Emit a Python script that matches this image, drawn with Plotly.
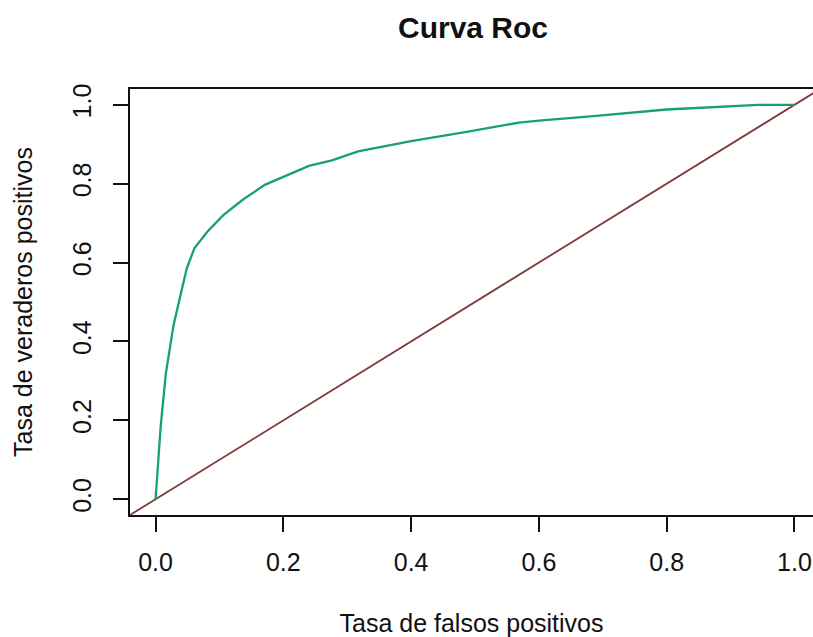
import plotly.graph_objects as go

# ROC curve
fpr = [0.0, 0.004, 0.008, 0.016, 0.020, 0.028, 0.037, 0.049, 0.061, 0.081, 0.106,
       0.138, 0.171, 0.200, 0.240, 0.276, 0.317, 0.400, 0.487, 0.569, 0.600,
       0.690, 0.800, 0.943, 1.0]
tpr = [0.0, 0.09, 0.184, 0.318, 0.359, 0.440, 0.503, 0.586, 0.637, 0.678, 0.720,
       0.761, 0.797, 0.818, 0.845, 0.859, 0.882, 0.908, 0.931, 0.955, 0.960,
       0.972, 0.988, 1.0, 1.0]

# reference line y = x (abline(0, 1)) across the whole axis range
x_range = [-0.04, 1.029]
y_range = [-0.04, 1.04]
diag = [-0.05, 1.06]

tick_vals = [0.0, 0.2, 0.4, 0.6, 0.8, 1.0]
tick_text = ["0.0", "0.2", "0.4", "0.6", "0.8", "1.0"]

title_text = "<b>Curva Roc</b>"
x_title = "Tasa de falsos positivos"
y_title = "Tasa de veraderos positivos"

fig = go.Figure()
fig.add_trace(go.Scatter(x=diag, y=diag, mode="lines",
                         line=dict(color="#7e3a36", width=1.8),
                         hoverinfo="skip", showlegend=False))
fig.add_trace(go.Scatter(x=fpr, y=tpr, mode="lines",
                         line=dict(color="#16a07a", width=2.3),
                         showlegend=False))

font_family = "Liberation Sans, Arial, sans-serif"

fig.update_layout(
    width=813, height=637,
    margin=dict(l=130, r=0, t=89, b=122),
    paper_bgcolor="white", plot_bgcolor="white",
    font=dict(family=font_family, size=25, color="#111111"),
    title=dict(text=title_text, x=473 / 813, xanchor="center", xref="container",
               y=1 - 27 / 637, yanchor="middle", yref="container",
               font=dict(size=30, family=font_family, color="#111111")),
    xaxis=dict(range=x_range, tickvals=tick_vals, ticktext=tick_text,
               showgrid=False, zeroline=False,
               showline=True, linecolor="#111111", linewidth=2, mirror=True,
               ticks="outside", ticklen=15, tickwidth=2, tickcolor="#111111",
               ticklabelstandoff=9,
               title=dict(text=x_title, standoff=41, font=dict(size=25))),
    yaxis=dict(range=y_range, tickvals=tick_vals, ticktext=tick_text,
               showgrid=False, zeroline=False,
               showline=True, linecolor="#111111", linewidth=2, mirror=False,
               ticks="outside", ticklen=15, tickwidth=2, tickcolor="#111111",
               tickangle=-90, ticklabelstandoff=12,
               title=dict(text=y_title, standoff=28, font=dict(size=25))),
)

fig.write_html("out.html")
